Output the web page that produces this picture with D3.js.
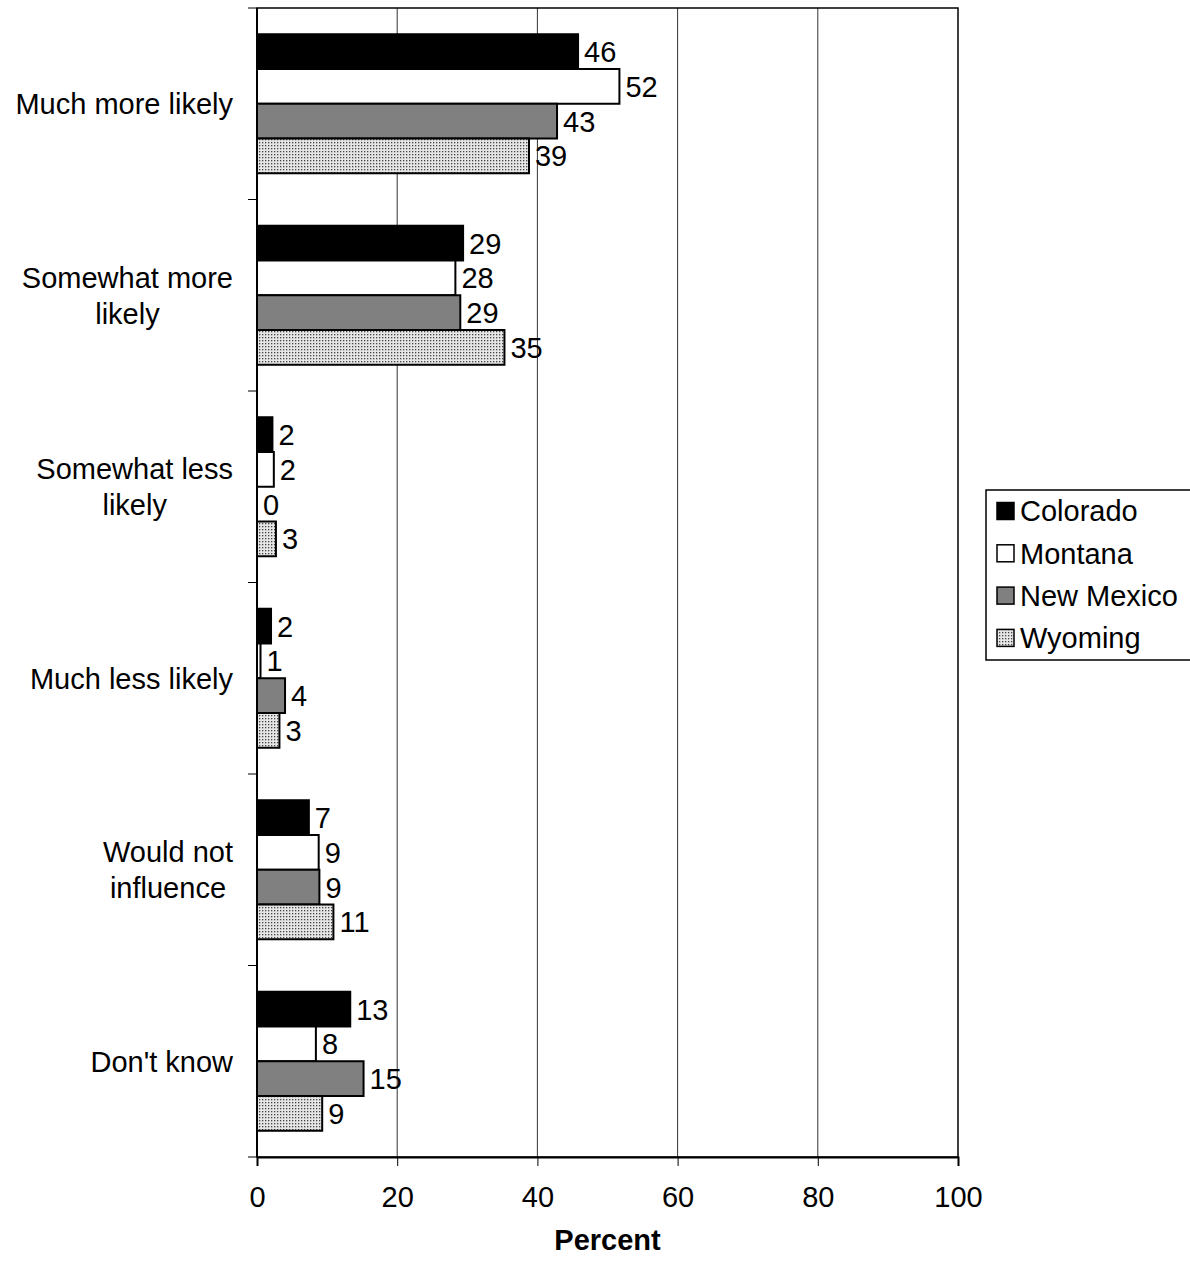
<!DOCTYPE html>
<html>
<head>
<meta charset="utf-8">
<script src="https://cdn.jsdelivr.net/npm/d3@7"></script>
<style>
  body { margin: 0; background: #fff; }
  text { font-family: Arial, "Liberation Sans", sans-serif; fill: #000; }
</style>
</head>
<body>
<div id="chart"></div>
<script>
// categories top to bottom
const categories = [
    ['Much more likely'],
    ['Somewhat more', 'likely'],
    ['Somewhat less', 'likely'],
    ['Much less likely'],
    ['Would not', 'influence'],
    ["Don't know"]
];
const states = ['Colorado', 'Montana', 'New Mexico', 'Wyoming'];
// percent values per state
const colorado = [45.8, 29.4, 2.2, 2.0, 7.4, 13.3];
const montana = [51.7, 28.3, 2.4, 0.5, 8.8, 8.4];
const newMexico = [42.8, 29.0, 0.0, 4.0, 8.9, 15.2];
const wyoming = [38.8, 35.3, 2.7, 3.2, 10.9, 9.3];
const xTicks = [0, 20, 40, 60, 80, 100];

const width = 1190, height = 1265;
const fontSize = '29px';
let margin = { top: 8, left: 257, right: 232, bottom: 108 };

const svg = d3.select('#chart').append('svg')
    .attr('width', width)
    .attr('height', height);

// dotted fill used for Wyoming
let defs = svg.append('defs');
let pat = defs.append('pattern')
    .attr('id', 'dots')
    .attr('patternUnits', 'userSpaceOnUse')
    .attr('width', 3)
    .attr('height', 3);
pat.append('rect').attr('width', 3).attr('height', 3).attr('fill', '#e6e6e6');
pat.append('rect').attr('x', 1).attr('y', 1).attr('width', 1.3).attr('height', 1.3).attr('fill', '#444444');

const fills = ['#000000', '#ffffff', '#808080', 'url(#dots)'];
const series = [colorado, montana, newMexico, wyoming];

let x = d3.scaleLinear()
    .domain([0, 100])
    .range([margin.left, width - margin.right]);

let y = d3.scaleBand()
    .domain(d3.range(categories.length))
    .range([margin.top, height - margin.bottom])
    .padding(0);

let ySub = d3.scaleBand()
    .domain(d3.range(states.length))
    .range([0, y.bandwidth()])
    .paddingInner(0)
    .paddingOuter(0.755);

// gridlines
svg.append('g')
    .selectAll('line')
    .data(xTicks.slice(1, -1)).enter()
    .append('line')
    .attr('x1', d => x(d)).attr('x2', d => x(d))
    .attr('y1', margin.top).attr('y2', height - margin.bottom)
    .attr('stroke', '#333')
    .attr('stroke-width', 1);

// plot outline
svg.append('rect')
    .attr('x', x(0))
    .attr('y', margin.top)
    .attr('width', x(100) - x(0))
    .attr('height', height - margin.bottom - margin.top)
    .attr('fill', 'none')
    .attr('stroke', '#000')
    .attr('stroke-width', 1.5);

// bars
let flat = [];
series.forEach((vals, s) => vals.forEach((v, c) => flat.push({ s: s, c: c, v: v })));

svg.append('g')
    .selectAll('rect')
    .data(flat).enter()
    .append('rect')
    .attr('x', x(0))
    .attr('y', d => y(d.c) + ySub(d.s))
    .attr('width', d => x(d.v) - x(0))
    .attr('height', ySub.bandwidth())
    .attr('fill', d => fills[d.s])
    .attr('stroke', '#000')
    .attr('stroke-width', 2);

// value labels
svg.append('g')
    .selectAll('text')
    .data(flat).enter()
    .append('text')
    .attr('x', d => x(d.v) + 6)
    .attr('y', d => y(d.c) + ySub(d.s) + ySub.bandwidth() / 2)
    .attr('dy', '0.36em')
    .style('font-size', fontSize)
    .text(d => Math.round(d.v));

// axes
let xAxis = d3.axisBottom(x)
    .tickValues(xTicks)
    .tickSize(9)
    .tickPadding(20);
let gx = svg.append('g')
    .attr('transform', `translate(0,${height - margin.bottom})`)
    .call(xAxis);
gx.select('.domain').attr('stroke', '#000').attr('stroke-width', 2);
gx.selectAll('.tick line').attr('stroke', '#000');
gx.selectAll('.tick text')
    .style('font-size', fontSize)
    .style('font-family', 'Arial, "Liberation Sans", sans-serif');

// left axis line and category boundary ticks
svg.append('line')
    .attr('x1', x(0)).attr('x2', x(0))
    .attr('y1', margin.top).attr('y2', height - margin.bottom)
    .attr('stroke', '#000').attr('stroke-width', 2);
let bounds = d3.range(categories.length + 1).map(i => margin.top + i * y.step());
svg.append('g')
    .selectAll('line')
    .data(bounds).enter()
    .append('line')
    .attr('x1', x(0) - 9).attr('x2', x(0))
    .attr('y1', d => d).attr('y2', d => d)
    .attr('stroke', '#000').attr('stroke-width', 1);

// category labels, lines centred inside a right-aligned block
let catG = svg.append('g');
categories.forEach((lines, i) => {
    let g = catG.append('g');
    let cy = y(i) + y.bandwidth() / 2;
    let lh = 36;
    let texts = lines.map((ln, j) => g.append('text')
        .attr('y', cy + (j - (lines.length - 1) / 2) * lh)
        .attr('dy', '0.36em')
        .style('font-size', fontSize)
        .text(ln));
    let maxW = d3.max(texts, t => t.node().getComputedTextLength());
    let right = x(0) - 24;
    texts.forEach(t => t.attr('x', right - maxW / 2).attr('text-anchor', 'middle'));
});

// x axis title
svg.append('text')
    .attr('x', (x(0) + x(100)) / 2)
    .attr('y', 1250)
    .attr('text-anchor', 'middle')
    .style('font-size', fontSize)
    .style('font-weight', 'bold')
    .text('Percent');

// legend
let lg = svg.append('g').attr('transform', 'translate(986,490)');
lg.append('rect')
    .attr('width', 206).attr('height', 170)
    .attr('fill', '#fff')
    .attr('stroke', '#000')
    .attr('stroke-width', 1.5);
states.forEach((s, i) => {
    let cy = 21 + i * 42.3;
    lg.append('rect')
        .attr('x', 11).attr('y', cy - 8.5)
        .attr('width', 17).attr('height', 17)
        .attr('fill', fills[i])
        .attr('stroke', '#000')
        .attr('stroke-width', 1.5);
    lg.append('text')
        .attr('x', 34).attr('y', cy)
        .attr('dy', '0.36em')
        .style('font-size', fontSize)
        .text(s);
});
</script>
</body>
</html>
